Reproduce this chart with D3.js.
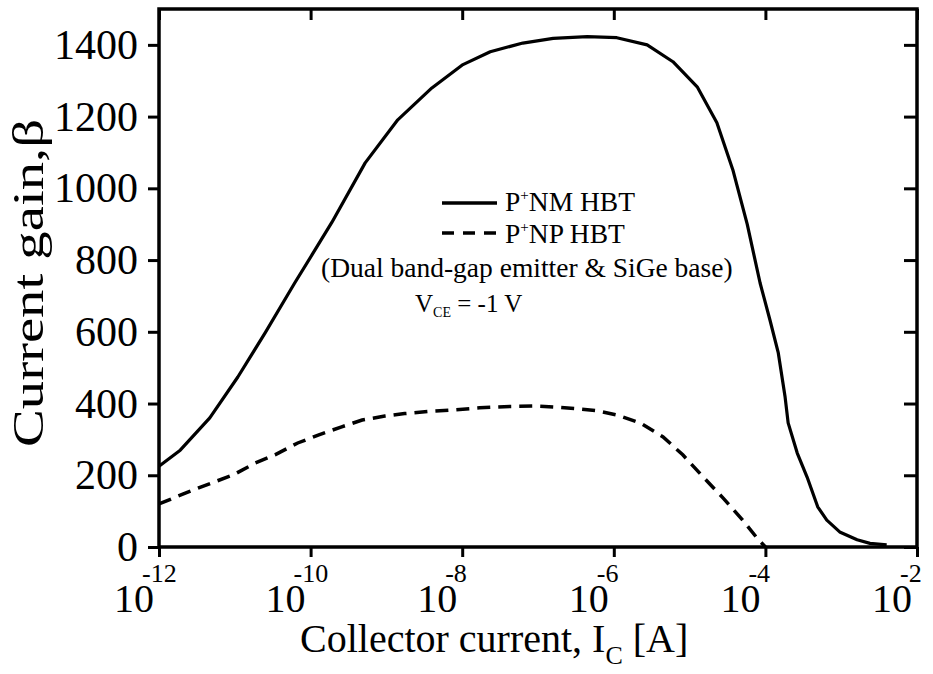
<!DOCTYPE html>
<html>
<head>
<meta charset="utf-8">
<script src="https://cdn.jsdelivr.net/npm/d3@7"></script>
<style>
  body { margin: 0; background: #fff; }
  svg text { font-family: "Liberation Serif", "Times New Roman", serif; fill: #000; }
</style>
</head>
<body>
<svg id="chart" width="933" height="674"></svg>
<script>
// exponents of collector current (A) and current gain
var pnmLogIc = [-12, -11.72, -11.33, -10.96, -10.6, -10.21, -9.98, -9.72, -9.28, -8.85, -8.4, -7.99,
  -7.63, -7.2, -6.8, -6.35, -5.96, -5.56, -5.22, -4.9, -4.64, -4.43, -4.24, -4.07, -3.94, -3.83,
  -3.74, -3.7, -3.58, -3.45, -3.31, -3.19, -3.02, -2.79, -2.62, -2.4];
var pnmGain = [225, 270, 360, 474, 597, 736, 815, 905, 1071, 1191, 1280, 1345,
  1381, 1405, 1418, 1423, 1420, 1400, 1353, 1283, 1183, 1052, 900, 736, 633, 541,
  418, 346, 262, 195, 112, 75, 42, 20, 10, 6];

var pnpLogIc = [-12, -11.62, -11.3, -11.02, -10.73, -10.47, -10.17, -9.9, -9.59, -9.32, -9.02, -8.76,
  -8.45, -8.13, -7.77, -7.37, -7.01, -6.75, -6.45, -6.22, -5.96, -5.65, -5.35, -5.09, -4.82,
  -4.56, -4.3, -4.11, -4.0];
var pnpGain = [120, 153, 179, 201, 234, 257, 290, 312, 335, 354, 365, 372,
  378, 382, 388, 392, 393, 390, 385, 380, 368, 346, 307, 257, 195,
  137, 75, 25, 0];

var xTickExp = [-12, -10, -8, -6, -4, -2];
var yTicks = [0, 200, 400, 600, 800, 1000, 1200, 1400];

var svg = d3.select("#chart");
var plotL = 159, plotR = 917, plotT = 9, plotB = 547;

var x = d3.scaleLog().domain([1e-12, 1e-2]).range([plotL, plotR]);
var y = d3.scaleLinear().domain([0, 1500]).range([plotB, plotT]);

function toPts(logs, vals) {
  return logs.map(function(e, i) { return { ic: Math.pow(10, e), g: vals[i] }; });
}

var line = d3.line()
  .x(function(d) { return x(d.ic); })
  .y(function(d) { return y(d.g); });

// curves
svg.append("path")
  .datum(toPts(pnmLogIc, pnmGain))
  .attr("d", line)
  .attr("fill", "none")
  .attr("stroke", "#000")
  .attr("stroke-width", 3.2)
  .attr("stroke-linejoin", "round");

svg.append("path")
  .datum(toPts(pnpLogIc, pnpGain))
  .attr("d", line)
  .attr("fill", "none")
  .attr("stroke", "#000")
  .attr("stroke-width", 3.5)
  .attr("stroke-dasharray", "13,8");

// axes
var xTicks = xTickExp.map(function(e) { return Math.pow(10, e); });

svg.append("g")
  .attr("transform", "translate(0," + plotB + ")")
  .call(d3.axisBottom(x).tickValues(xTicks).tickSize(10).tickSizeOuter(0).tickFormat(""));
svg.append("g")
  .attr("transform", "translate(0," + plotT + ")")
  .call(d3.axisBottom(x).tickValues(xTicks).tickSize(11).tickSizeOuter(0).tickFormat(""));
svg.append("g")
  .attr("transform", "translate(" + plotL + ",0)")
  .call(d3.axisLeft(y).tickValues(yTicks).tickSize(11).tickSizeOuter(0).tickFormat(""));
svg.append("g")
  .attr("transform", "translate(" + plotR + ",0)")
  .call(d3.axisLeft(y).tickValues(yTicks).tickSize(13).tickSizeOuter(0).tickFormat(""));

svg.selectAll(".domain").remove();
svg.selectAll(".tick line").attr("stroke", "#000").attr("stroke-width", 3);

// frame
svg.append("rect")
  .attr("x", plotL).attr("y", plotT)
  .attr("width", plotR - plotL).attr("height", plotB - plotT)
  .attr("fill", "none").attr("stroke", "#000").attr("stroke-width", 3.5);

// y tick labels
svg.selectAll(".ylab").data(yTicks).enter().append("text")
  .attr("class", "ylab")
  .attr("x", 138)
  .attr("y", function(d) { return y(d) + 14; })
  .attr("text-anchor", "end")
  .style("font-size", "42px")
  .text(function(d) { return d; });

// x tick labels 10^n, one text each
var xl = svg.selectAll(".xlab").data(xTickExp).enter().append("text")
  .attr("class", "xlab")
  .attr("x", function(d) { return x(Math.pow(10, d)) - 45; })
  .attr("y", 612)
  .style("font-size", "40px");
xl.append("tspan").text("10");
xl.append("tspan")
  .attr("dx", -12).attr("dy", -30)
  .style("font-size", "26px")
  .text(function(d) { return d; });

// axis titles
var xt = svg.append("text")
  .attr("x", 300).attr("y", 652)
  .style("font-size", "40px");
xt.append("tspan").text("Collector current, I");
xt.append("tspan").attr("dy", 12).style("font-size", "26px").text("C");
xt.append("tspan").attr("dy", -12).text(" [A]");

svg.append("text")
  .attr("transform", "translate(43,447) rotate(-90)")
  .attr("textLength", 328)
  .attr("lengthAdjust", "spacingAndGlyphs")
  .style("font-size", "44px")
  .text("Current gain,\u03b2");

// legend
svg.append("line")
  .attr("x1", 442).attr("x2", 497).attr("y1", 203).attr("y2", 203)
  .attr("stroke", "#000").attr("stroke-width", 3.5);
svg.append("line")
  .attr("x1", 442).attr("x2", 497).attr("y1", 233).attr("y2", 233)
  .attr("stroke", "#000").attr("stroke-width", 3.5)
  .attr("stroke-dasharray", "12,9");

function legendLabel(yb, rest) {
  var t = svg.append("text").attr("x", 505).attr("y", yb).style("font-size", "27.5px");
  t.append("tspan").text("P");
  t.append("tspan").attr("dy", -11).style("font-size", "15px").text("+");
  t.append("tspan").attr("dy", 11).text(rest);
}
legendLabel(211, "NM HBT");
legendLabel(243, "NP HBT");

svg.append("text")
  .attr("x", 321).attr("y", 277)
  .style("font-size", "27.5px")
  .text("(Dual band-gap emitter & SiGe base)");

var vt = svg.append("text").attr("x", 415).attr("y", 312).style("font-size", "25px");
vt.append("tspan").text("V");
vt.append("tspan").attr("dy", 5).style("font-size", "14px").text("CE");
vt.append("tspan").attr("dy", -5).text(" = -1 V");
</script>
</body>
</html>
